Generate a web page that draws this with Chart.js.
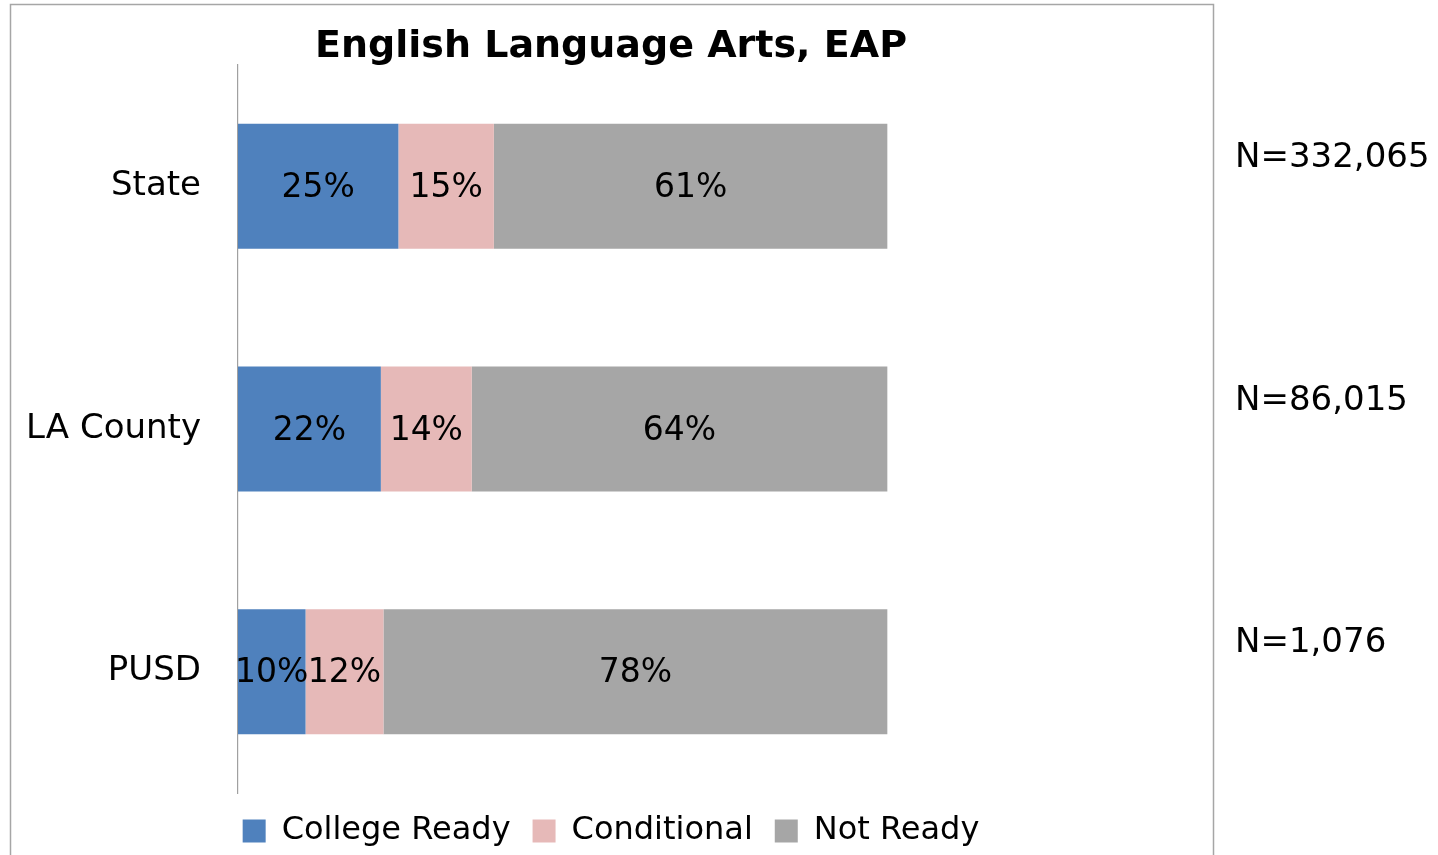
<!DOCTYPE html>
<html>
<head>
<meta charset="utf-8">
<script src="https://cdn.jsdelivr.net/npm/chart.js@4.4.1/dist/chart.umd.min.js"></script>
<style>
  html, body { margin: 0; padding: 0; background: #ffffff; overflow: hidden; }
  #wrap { position: relative; width: 1438px; height: 857px; }
</style>
</head>
<body>
<div id="wrap"><canvas id="c"></canvas></div>
<script>
const titleText = 'English Language Arts, EAP';
const categories = ['State', 'LA County', 'PUSD'];
const seriesNames = ['College Ready', 'Conditional', 'Not Ready'];
const collegeReady = [24.7, 22.0, 10.4];
const conditional = [14.7, 14.0, 12.0];
const notReady = [60.6, 64.0, 77.6];
const nLabels = ['N=332,065', 'N=86,015', 'N=1,076'];
const colors = ['#4F81BD', '#E6B9B8', '#A6A6A6'];

const FONT = '"DejaVu Sans", "Liberation Sans", sans-serif';

const framePlugin = {
  id: 'frame',
  beforeDraw(chart) {
    const ctx = chart.ctx;
    ctx.save();
    ctx.strokeStyle = '#a6a6a6';
    ctx.lineWidth = 1.5;
    ctx.strokeRect(10.5, 4.5, 1203, 950);
    ctx.restore();
  }
};

const valueLabelPlugin = {
  id: 'valueLabels',
  afterDatasetsDraw(chart) {
    const ctx = chart.ctx;
    ctx.save();
    ctx.font = '33px ' + FONT;
    ctx.fillStyle = '#000000';
    ctx.textAlign = 'center';
    ctx.textBaseline = 'middle';
    chart.data.datasets.forEach((ds, di) => {
      const meta = chart.getDatasetMeta(di);
      meta.data.forEach((el, i) => {
        const v = ds.data[i];
        const cx = (el.x + el.base) / 2;
        ctx.fillText(Math.round(v) + '%', cx, el.y + 2);
      });
    });
    ctx.restore();
  }
};

const nLabelPlugin = {
  id: 'nLabels',
  afterDraw(chart) {
    const ctx = chart.ctx;
    const y = chart.scales.y;
    ctx.save();
    ctx.font = '34px ' + FONT;
    ctx.fillStyle = '#000000';
    ctx.textAlign = 'left';
    ctx.textBaseline = 'middle';
    nLabels.forEach((t, i) => {
      ctx.fillText(t, 1235, y.getPixelForValue(i) - 28);
    });
    ctx.restore();
  }
};

new Chart(document.getElementById('c'), {
  type: 'bar',
  data: {
    labels: categories,
    datasets: [
      { label: seriesNames[0], data: collegeReady, backgroundColor: colors[0] },
      { label: seriesNames[1], data: conditional, backgroundColor: colors[1] },
      { label: seriesNames[2], data: notReady, backgroundColor: colors[2] }
    ]
  },
  options: {
    indexAxis: 'y',
    responsive: true,
    maintainAspectRatio: false,
    animation: false,
    layout: { padding: { left: 10, right: 226, top: 0, bottom: 0 } },
    datasets: {
      bar: { barPercentage: 1.0, categoryPercentage: 0.515, borderWidth: 0 }
    },
    scales: {
      x: {
        stacked: true,
        min: 0,
        max: 150,
        display: false
      },
      y: {
        stacked: true,
        grid: { display: false },
        border: { display: true, color: '#a0a0a0', width: 1.2 },
        ticks: {
          color: '#000000',
          font: { family: FONT, size: 34 },
          padding: 29
        },
        afterFit(scale) { scale.width = 228; }
      }
    },
    plugins: {
      title: {
        display: true,
        text: titleText,
        color: '#000000',
        font: { family: FONT, size: 38, weight: 'bold', lineHeight: 0.92 },
        padding: { top: 30, bottom: 0 }
      },
      legend: {
        position: 'bottom',
        labels: {
          color: '#000000',
          font: { family: FONT, size: 32 },
          boxWidth: 23,
          boxHeight: 23,
          padding: 22
        }
      },
      tooltip: { enabled: false }
    }
  },
  plugins: [framePlugin, valueLabelPlugin, nLabelPlugin]
});
</script>
</body>
</html>
